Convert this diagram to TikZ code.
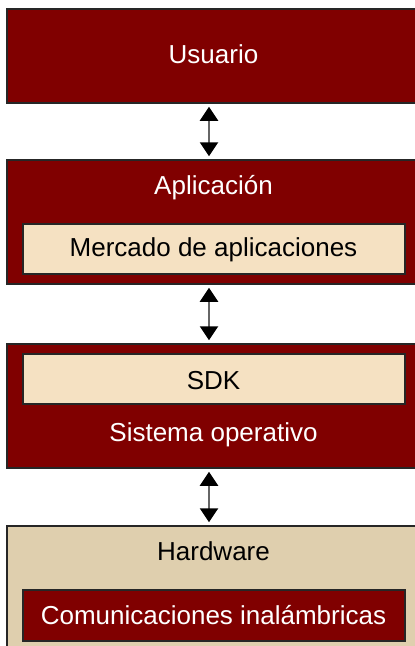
\documentclass[tikz,border=0pt]{standalone}
\usepackage{fontspec}
\setmainfont{Liberation Sans}
\usetikzlibrary{arrows.meta}
\definecolor{maroonbox}{HTML}{800000}
\definecolor{wheatbox}{HTML}{F5E1C2}
\definecolor{tanbox}{HTML}{DFCFAE}
\definecolor{edgegray}{HTML}{666666}
\tikzset{
  layer/.style={draw=black!85, line width=1.5pt, rectangle, minimum width=413pt, inner sep=0pt},
  inner/.style={draw=black!85, line width=1.5pt, rectangle, minimum width=382pt, inner sep=0pt},
  darkfill/.style={fill=maroonbox},
  lightfill/.style={fill=wheatbox},
  hwfill/.style={fill=tanbox},
  whitetxt/.style={text=white, font=\fontsize{26}{30}\selectfont, inner sep=0pt, anchor=base},
  blacktxt/.style={text=black, font=\fontsize{26}{30}\selectfont, inner sep=0pt, anchor=base},
  link/.style={draw=edgegray, line width=2.5pt, {Triangle[width=18pt,length=14pt,fill=black,color=black]}-{Triangle[width=18pt,length=14pt,fill=black,color=black]}, shorten <=3pt, shorten >=3pt}
}
\begin{document}
\begin{tikzpicture}[x=1pt,y=-1pt]
  \useasboundingbox (0,0) rectangle (415,646);
  \clip (0,0) rectangle (415,646);
  \fill[white] (0,0) rectangle (415,646);

  % user layer
  \node[layer, darkfill, minimum height=94pt] (usuario) at (213.5,56) {};
  \node[whitetxt] (usuariotxt) at (213.5,63) {Usuario};

  % application layer with the app store
  \node[layer, darkfill, minimum height=124pt] (aplicacion) at (213.5,222) {};
  \node[whitetxt] (aplicaciontxt) at (213.5,194) {Aplicación};
  \node[inner, lightfill, minimum height=50pt] (mercado) at (214,249) {};
  \node[blacktxt] (mercadotxt) at (213.5,256) {Mercado de aplicaciones};

  % operating system layer with the SDK
  \node[layer, darkfill, minimum height=124pt] (so) at (213.5,406) {};
  \node[inner, lightfill, minimum height=50pt] (sdk) at (214,379) {};
  \node[blacktxt] (sdktxt) at (213.5,389) {SDK};
  \node[whitetxt] (sotxt) at (213.5,441) {Sistema operativo};

  % hardware layer with wireless communications
  \node[layer, hwfill, minimum height=150pt] (hardware) at (213.5,601) {};
  \node[blacktxt] (hardwaretxt) at (213.5,560) {Hardware};
  \node[inner, darkfill, minimum height=51pt] (comms) at (214,615.5) {};
  \node[whitetxt] (commstxt) at (213.5,624) {Comunicaciones inalámbricas};

  % two-way links between layers
  \draw[link] ([xshift=-4.5pt]usuario.south) -- ([xshift=-4.5pt]aplicacion.north);
  \draw[link] ([xshift=-4.5pt]aplicacion.south) -- ([xshift=-4.5pt]so.north);
  \draw[link] ([xshift=-4.5pt]so.south) -- ([xshift=-4.5pt]hardware.north);
\end{tikzpicture}
\end{document}
